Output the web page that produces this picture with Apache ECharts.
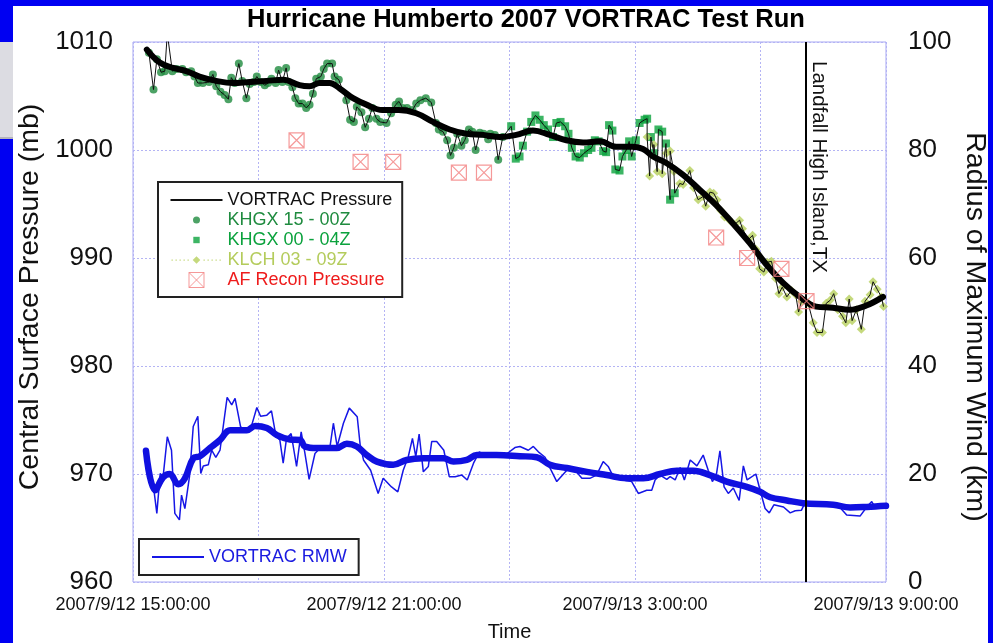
<!DOCTYPE html>
<html>
<head>
<meta charset="utf-8">
<script src="https://cdn.jsdelivr.net/npm/echarts@6/dist/echarts.min.js"></script>
<style>
  html, body { margin: 0; padding: 0; width: 993px; height: 643px; overflow: hidden; background: #0000f2; }
  #side { position: absolute; left: 0; top: 42px; width: 13px; height: 95px; background: #dcdce2; border-bottom: 2px solid #b4b4bc; }
  #main { position: absolute; left: 13px; top: 6px; width: 975px; height: 637px; background: #fff; }
</style>
</head>
<body>
<div id="side"></div>
<div id="main"></div>
<script>
// hours after 2007/9/12 15:00 UTC
const labelHours = [0, 6, 12, 18]
const timeLabels = ['2007/9/12 15:00:00', '2007/9/12 21:00:00', '2007/9/13 3:00:00', '2007/9/13 9:00:00']
const landfallHour = 16.07
const landfallText = 'Landfall High Island,TX'

// KHGX 15 - 00Z  [hour, pressure mb]
const khgx15 = [[0.38,1009.0],[0.49,1005.6],[0.57,1008.4],[0.67,1007.2],[0.76,1007.3],[0.82,1010.8],[0.94,1007.3],[1.04,1007.5],[1.18,1007.5],[1.27,1007.2],[1.39,1007.3],[1.47,1006.8],[1.55,1006.2],[1.67,1006.2],[1.82,1006.3],[1.91,1007.0],[1.99,1005.9],[2.09,1005.4],[2.19,1005.1],[2.28,1004.7],[2.35,1006.7],[2.43,1006.2],[2.53,1008.0],[2.61,1006.4],[2.71,1004.8],[2.79,1006.1],[2.89,1006.3],[2.96,1006.8],[3.05,1006.3],[3.15,1006.0],[3.23,1006.2],[3.31,1006.6],[3.41,1006.2],[3.48,1007.4],[3.57,1006.3],[3.66,1007.6],[3.72,1006.3],[3.81,1005.8],[3.88,1004.8],[3.96,1004.3],[4.05,1004.3],[4.14,1003.9],[4.22,1004.2],[4.30,1005.2],[4.38,1006.6],[4.49,1006.8],[4.56,1007.5],[4.64,1008.0],[4.76,1008.0],[4.82,1006.8],[4.92,1006.5],[5.10,1004.6],[5.19,1002.8],[5.28,1002.6],[5.35,1004.0],[5.46,1003.5],[5.55,1002.1],[5.64,1002.9],[5.72,1003.9],[5.82,1002.9],[5.91,1002.6],[6.06,1002.5],[6.17,1003.4],[6.28,1004.2],[6.36,1004.5],[6.44,1003.9],[6.55,1003.9],[6.68,1003.7],[6.77,1004.3],[6.87,1004.6],[7.00,1004.8],[7.13,1004.4],[7.24,1002.5],[7.31,1001.9],[7.41,1001.7],[7.51,1000.9],[7.59,999.5],[7.67,1000.2],[7.75,1001.5],[7.85,1000.4],[7.93,1000.9],[8.03,1001.9],[8.11,1001.7],[8.19,1000.0],[8.29,1001.6],[8.38,1001.5],[8.49,1001.0],[8.54,1001.5],[8.65,1001.4],[8.73,999.1],[8.84,1001.2]]

// KHGX 00 - 04Z
const khgx00 = [[9.04,1002.2],[9.15,999.2],[9.24,999.4],[9.32,1000.4],[9.42,1001.7],[9.52,1002.6],[9.62,1003.2],[9.72,1002.8],[9.82,1002.3],[9.92,1001.9],[10.04,1001.2],[10.12,1002.5],[10.22,1002.6],[10.33,1002.2],[10.41,1001.5],[10.49,1000.2],[10.58,999.4],[10.68,999.3],[10.78,999.7],[10.88,1000.0],[10.96,1000.2],[11.04,1000.9],[11.13,1000.8],[11.24,999.9],[11.31,999.8],[11.38,1002.3],[11.46,1001.8],[11.53,998.2],[11.63,998.1],[11.70,999.4],[11.79,1000.0],[11.86,1000.8],[11.92,999.4],[12.02,1000.9],[12.11,1002.5],[12.23,1002.8],[12.29,1002.9],[12.38,1001.2],[12.45,999.7],[12.56,1001.9],[12.65,1001.7],[12.74,1000.6],[12.84,995.4],[12.95,996.0]]

// KLCH 03 - 09Z
const klch = [[12.29,1001.2],[12.35,997.6],[12.45,1000.5],[12.53,998.0],[12.65,997.8],[12.75,999.7],[12.84,999.9],[12.93,998.0],[13.07,996.9],[13.15,996.8],[13.31,998.1],[13.40,996.5],[13.51,995.4],[13.63,995.7],[13.69,994.8],[13.79,996.1],[13.88,996.0],[13.96,995.4],[14.05,994.4],[14.14,993.8],[14.26,993.5],[14.38,993.1],[14.50,993.5],[14.57,992.7],[14.71,991.7],[14.81,992.1],[14.89,990.8],[14.98,989.0],[15.08,988.7],[15.16,989.6],[15.26,989.7],[15.36,988.1],[15.44,986.7],[15.52,987.3],[15.63,986.4],[15.74,987.0],[15.84,986.6],[15.91,985.0],[15.98,986.0],[16.14,985.8],[16.26,984.0],[16.35,983.1],[16.48,983.1],[16.57,985.8],[16.67,986.1],[16.75,986.7],[16.85,985.2],[16.96,984.6],[17.04,984.0],[17.12,986.2],[17.19,984.2],[17.29,985.2],[17.41,983.4],[17.50,986.0],[17.62,986.6],[17.69,987.8],[17.79,987.1],[17.89,986.4],[17.94,985.5]]

// running mean of VORTRAC pressure (thick black)
const pressureMean = [[0.33,1009.3],[0.64,1008.1],[0.96,1007.6],[1.27,1007.3],[1.59,1006.8],[1.99,1006.4],[2.39,1006.2],[2.79,1006.3],[3.19,1006.4],[3.59,1006.5],[3.98,1006.0],[4.22,1005.9],[4.46,1006.2],[4.70,1006.2],[4.94,1005.7],[5.26,1004.8],[5.58,1004.2],[5.96,1003.7],[6.35,1003.7],[6.77,1003.4],[7.17,1002.6],[7.57,1001.9],[7.97,1001.5],[8.37,1001.4],[8.77,1001.2],[9.16,1001.4],[9.56,1001.8],[9.96,1001.4],[10.36,1000.9],[10.76,1000.7],[11.16,1000.8],[11.55,1000.3],[11.93,1000.3],[12.19,1000.1],[12.43,999.4],[12.75,998.8],[13.15,997.7],[13.55,996.3],[13.94,994.9],[14.34,993.2],[14.74,991.4],[15.14,989.4],[15.54,987.7],[15.94,986.4],[16.33,985.5],[16.73,985.4],[17.13,985.2],[17.53,985.6],[17.93,986.4]]

// AF recon central pressure
const recon = [[3.91,1000.9],[5.44,998.9],[6.22,998.9],[7.79,997.9],[8.39,997.9],[13.94,991.9],[14.68,990.0],[15.50,989.0],[16.10,986.0]]

// VORTRAC radius of maximum wind (km)
const rmw = [[0.31,24.1],[0.50,17.0],[0.57,12.7],[0.65,20.1],[0.72,19.5],[0.82,26.9],[0.92,24.4],[1.00,12.7],[1.11,11.5],[1.16,16.1],[1.24,13.6],[1.35,19.5],[1.44,28.8],[1.55,30.7],[1.62,20.1],[1.68,21.5],[1.80,21.7],[1.88,24.4],[1.98,23.1],[2.08,24.4],[2.25,34.2],[2.36,32.8],[2.44,34.0],[2.57,28.8],[2.68,27.8],[2.84,29.1],[2.96,32.3],[3.05,30.7],[3.20,30.9],[3.31,31.7],[3.42,26.9],[3.51,26.3],[3.59,22.0],[3.67,26.6],[3.78,27.5],[3.91,21.4],[4.02,27.8],[4.11,23.8],[4.21,19.0],[4.35,23.8],[4.51,25.1],[4.71,25.1],[4.79,29.4],[4.88,25.1],[5.03,29.4],[5.17,32.2],[5.36,30.6],[5.43,25.4],[5.51,22.6],[5.68,20.7],[5.86,16.4],[5.98,19.2],[6.18,17.6],[6.33,16.7],[6.46,20.7],[6.58,23.2],[6.68,26.6],[6.76,23.2],[6.84,27.4],[6.94,20.4],[7.06,21.4],[7.14,26.0],[7.26,26.0],[7.43,24.4],[7.56,19.5],[7.70,19.5],[7.86,19.8],[7.99,18.9],[8.14,22.0],[8.28,24.1],[8.38,23.5],[8.53,23.8],[8.69,23.5],[8.93,23.7],[9.13,24.9],[9.25,25.1],[9.45,24.4],[9.57,25.1],[9.69,24.1],[9.85,23.1],[9.97,21.1],[10.13,18.6],[10.37,20.7],[10.57,20.7],[10.73,19.2],[10.92,19.2],[11.08,19.8],[11.24,22.3],[11.36,21.4],[11.48,19.5],[11.72,18.9],[11.92,18.6],[12.08,16.4],[12.28,17.0],[12.40,17.0],[12.48,18.9],[12.60,19.8],[12.76,19.0],[12.84,19.5],[12.96,18.9],[13.08,21.2],[13.18,18.9],[13.32,22.6],[13.48,21.5],[13.63,23.5],[13.75,20.7],[13.85,18.6],[13.95,20.1],[14.03,24.3],[14.13,17.6],[14.23,16.4],[14.35,17.4],[14.49,15.1],[14.59,21.5],[14.68,18.9],[14.89,20.0],[14.99,17.0],[15.11,13.6],[15.21,12.8],[15.32,14.3],[15.55,13.9],[15.71,12.8],[15.83,13.2],[15.98,13.3],[16.06,14.6],[16.26,14.4],[16.58,14.3],[16.89,13.9],[17.06,12.4],[17.38,12.2],[17.54,13.9],[17.66,14.9],[17.73,13.9],[18.0,14.1]]

// running mean of RMW (thick blue)
const rmwMean = [[0.31,24.3],[0.53,17.0],[0.72,19.4],[0.88,20.0],[1.08,18.1],[1.24,19.2],[1.44,22.9],[1.60,23.3],[1.84,24.8],[2.08,26.3],[2.32,28.1],[2.56,28.1],[2.72,28.1],[2.92,28.9],[3.20,28.5],[3.44,27.2],[3.75,26.4],[3.99,26.3],[4.11,25.1],[4.39,24.8],[4.87,24.8],[5.11,25.6],[5.35,25.1],[5.59,23.5],[5.83,22.3],[6.22,21.7],[6.54,22.6],[6.94,22.9],[7.42,22.9],[7.66,22.3],[7.98,22.6],[8.22,23.5],[8.69,23.5],[9.25,23.3],[9.65,23.1],[9.97,21.7],[10.37,21.1],[10.85,20.4],[11.32,19.8],[11.80,19.2],[12.20,19.2],[12.60,20.0],[13.00,20.6],[13.39,20.6],[13.79,19.8],[14.19,18.6],[14.67,17.6],[14.99,16.7],[15.23,15.7],[15.63,15.1],[16.02,14.6],[16.74,14.3],[17.14,13.8],[17.54,13.9],[18.0,14.1]]

const FONT = 'Liberation Sans, Arial, sans-serif'

// all radar retrievals in time order -> thin black line
const allPressure = [...khgx15, ...khgx00, ...klch].sort((a, b) => a[0] - b[0])

// legend icons drawn in a 52x16 box (first two moves fix the box)
const BOX = 'path://M0,0M52,16'
const lineIcon = BOX + 'M0,7h52v2h-52Z'
const dotIcon = BOX + 'M22.5,8a3.5,3.5 0 1,0 7,0a3.5,3.5 0 1,0 -7,0Z'
const squareIcon = BOX + 'M22.8,4.8h6.4v6.4h-6.4Z'
let klchIcon = BOX + 'M26,4.2L29.8,8L26,11.8L22.2,8Z'
for (let x = 1; x < 52; x += 4) {
  if (x > 19 && x < 33) continue
  klchIcon += 'M' + x + ',7.4h1.3v1.3h-1.3Z'
}
const reconIcon = BOX + 'M18.5,0.5H33.5V15.5H18.5ZM18.5,0.5L33.5,15.5M33.5,0.5L18.5,15.5'
const reconSymbol = 'path://M0,0H16V16H0ZM0,0L16,16M16,0L0,16'

const chart = echarts.init(document.getElementById('main'))

const option = {
  backgroundColor: '#fff',
  animation: false,
  title: {
    text: 'Hurricane Humberto 2007 VORTRAC Test Run',
    left: 234,
    top: 1,
    padding: 0,
    textStyle: { fontFamily: FONT, fontSize: 25.5, fontWeight: 'bold', color: '#000' }
  },
  grid: {
    left: 120, right: 102, top: 36, bottom: 61,
    show: true, borderColor: '#a6a6f2', borderWidth: 1,
    outerBoundsMode: 'none'
  },
  legend: [
    {
      left: 145, top: 176,
      orient: 'vertical',
      itemWidth: 52, itemHeight: 16, itemGap: 2,
      padding: [9, 10, 8, 12],
      borderColor: '#222', borderWidth: 2, backgroundColor: '#fff',
      selectedMode: false,
      textStyle: { fontFamily: FONT, fontSize: 18, lineHeight: 18, color: '#111' },
      data: [
        { name: 'VORTRAC Pressure', icon: lineIcon, textStyle: { color: '#111' } },
        { name: 'KHGX 15 - 00Z', icon: dotIcon, textStyle: { color: '#1f8b3f' } },
        { name: 'KHGX 00 - 04Z', icon: squareIcon, textStyle: { color: '#0ba23d' } },
        { name: 'KLCH 03 - 09Z', icon: klchIcon, textStyle: { color: '#b4cc5c' } },
        { name: 'AF Recon Pressure', icon: reconIcon, itemStyle: { borderWidth: 1 }, textStyle: { color: '#ee1c1c' } }
      ]
    },
    {
      left: 126, top: 533,
      itemWidth: 52, itemHeight: 16,
      padding: [9, 12, 9, 13],
      borderColor: '#222', borderWidth: 2, backgroundColor: '#fff',
      selectedMode: false,
      textStyle: { fontFamily: FONT, fontSize: 18, lineHeight: 18, color: '#1a1ae0' },
      data: [{ name: 'VORTRAC RMW', icon: lineIcon }]
    }
  ],
  xAxis: {
    type: 'value',
    min: 0, max: 18, interval: 3,
    axisLine: { show: false },
    axisTick: { show: false },
    splitLine: { show: true, lineStyle: { color: '#b4b4f4', type: [2, 2] } },
    axisLabel: {
      fontFamily: FONT, fontSize: 18, color: '#111', margin: 14,
      showMinLabel: true, showMaxLabel: true,
      formatter: v => {
        const i = labelHours.indexOf(v)
        return i >= 0 ? timeLabels[i] : ''
      }
    },
    name: 'Time',
    nameLocation: 'middle',
    nameGap: 40,
    nameTextStyle: { fontFamily: FONT, fontSize: 20, color: '#111' }
  },
  yAxis: [
    {
      type: 'value',
      min: 960, max: 1010, interval: 10,
      axisLine: { show: false },
      axisTick: { show: false },
      splitLine: { show: true, lineStyle: { color: '#b4b4f4', type: [2, 2] } },
      axisLabel: { fontFamily: FONT, fontSize: 26, color: '#111', margin: 20, formatter: v => String(v) },
      name: 'Central Surface Pressure (mb)',
      nameLocation: 'middle',
      nameRotate: 90,
      nameGap: 88,
      nameMoveOverlap: false,
      nameTextStyle: { fontFamily: FONT, fontSize: 28.5, color: '#111', padding: [0, 0, 0, 30] }
    },
    {
      type: 'value',
      position: 'right',
      min: 0, max: 100, interval: 20,
      axisLine: { show: false },
      axisTick: { show: false },
      splitLine: { show: false },
      axisLabel: { fontFamily: FONT, fontSize: 26, color: '#111', margin: 22 },
      name: 'Radius of Maximum Wind (km)',
      nameLocation: 'middle',
      nameRotate: -90,
      nameGap: 74,
      nameMoveOverlap: false,
      nameTextStyle: { fontFamily: FONT, fontSize: 28.5, color: '#111', padding: [0, 0, 0, 30] }
    }
  ],
  series: [
    {
      name: 'KHGX 15 - 00Z',
      type: 'scatter',
      data: khgx15,
      symbol: 'circle', symbolSize: 8,
      itemStyle: { color: '#1f8b3f' },
      z: 2
    },
    {
      name: 'KHGX 00 - 04Z',
      type: 'scatter',
      data: khgx00,
      symbol: 'rect', symbolSize: 8,
      itemStyle: { color: '#0ba23d' },
      z: 2
    },
    {
      name: 'KLCH 03 - 09Z',
      type: 'scatter',
      data: klch,
      symbol: 'diamond', symbolSize: 9,
      itemStyle: { color: '#b6cf5c' },
      z: 2
    },
    {
      name: 'VORTRAC Pressure',
      type: 'line',
      data: allPressure,
      symbol: 'none',
      lineStyle: { color: '#111', width: 1 },
      itemStyle: { color: '#111' },
      z: 3,
      markLine: {
        silent: true,
        symbol: 'none',
        label: { show: false },
        lineStyle: { color: '#000', width: 2, type: 'solid' },
        data: [{ xAxis: landfallHour }]
      }
    },
    {
      name: 'Pressure Mean',
      type: 'line',
      data: pressureMean,
      symbol: 'none',
      smooth: 0.4,
      lineStyle: { color: '#000', width: 6, cap: 'round', join: 'round' },
      z: 4
    },
    {
      name: 'AF Recon Pressure',
      type: 'scatter',
      data: recon,
      symbol: reconSymbol, symbolSize: 15,
      itemStyle: { color: 'rgba(255,255,255,0)', borderColor: '#f28080', borderWidth: 1.2 },
      z: 5
    },
    {
      name: 'VORTRAC RMW',
      type: 'line',
      yAxisIndex: 1,
      data: rmw,
      symbol: 'none',
      lineStyle: { color: '#1616e6', width: 1.5 },
      itemStyle: { color: '#1616e6' },
      z: 2
    },
    {
      name: 'RMW Mean',
      type: 'line',
      yAxisIndex: 1,
      data: rmwMean,
      symbol: 'none',
      smooth: 0.4,
      lineStyle: { color: '#1010e0', width: 6.5, cap: 'round', join: 'round' },
      z: 3
    }
  ]
}

chart.setOption(option)

// landfall annotation next to the vertical line
const lx = chart.convertToPixel({ xAxisIndex: 0 }, landfallHour)
const topY = chart.convertToPixel({ yAxisIndex: 0 }, 1010)
chart.setOption({
  graphic: [{
    type: 'text',
    x: lx + 13,
    y: topY + 19,
    rotation: -Math.PI / 2,
    silent: true,
    z: 10,
    style: {
      text: landfallText,
      fontFamily: FONT,
      fontSize: 20.5,
      fill: '#111',
      align: 'left',
      verticalAlign: 'middle'
    }
  }]
})
</script>
</body>
</html>
